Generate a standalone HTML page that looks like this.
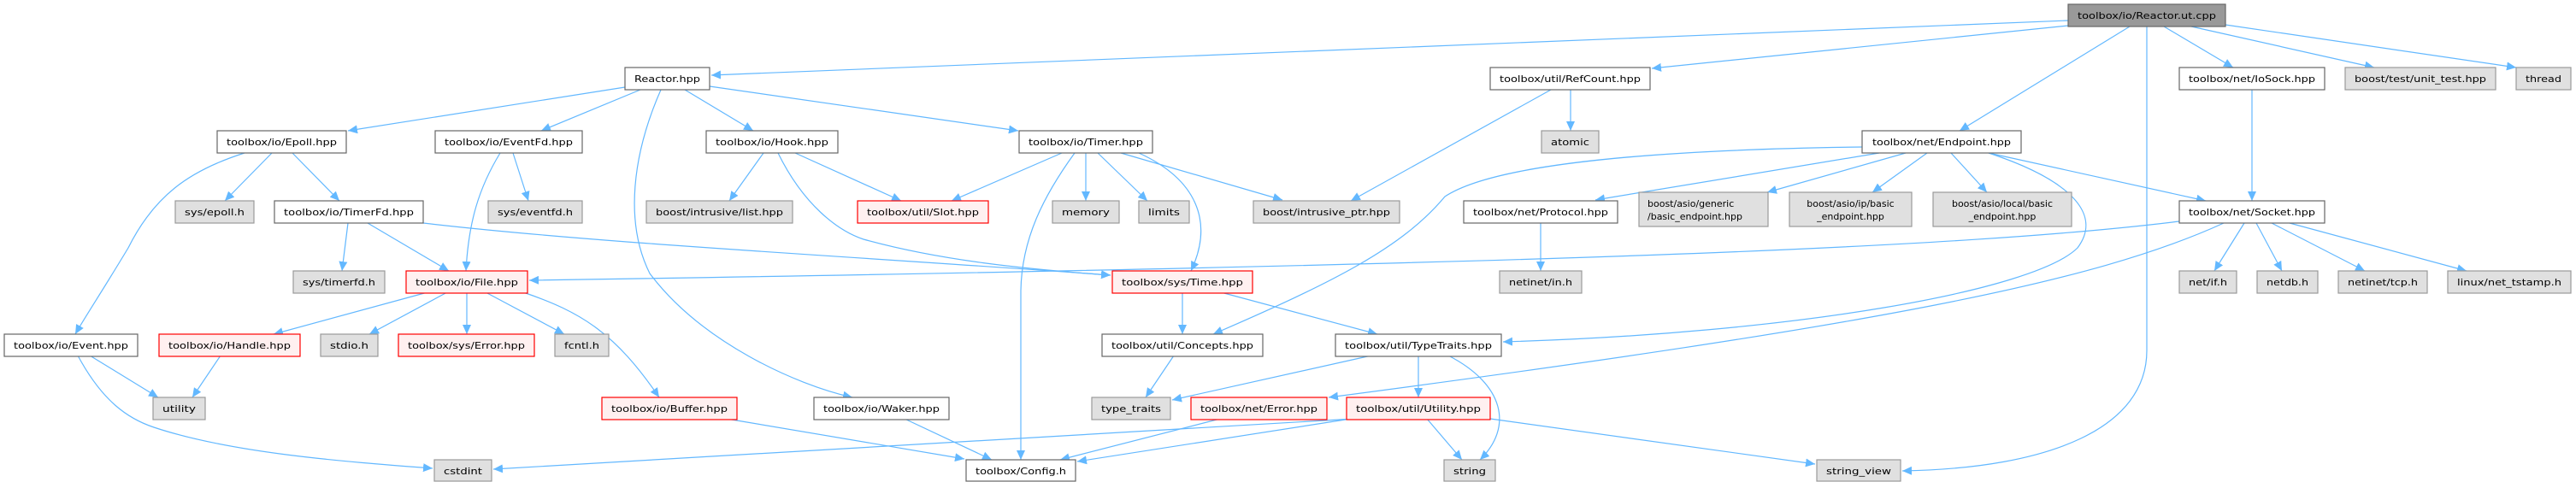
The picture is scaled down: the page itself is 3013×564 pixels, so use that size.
<!DOCTYPE html>
<html><head><meta charset="utf-8"><style>
html,body{margin:0;padding:0;background:#fff;}
svg{display:block;}
text{font-family:"DejaVu Sans","Liberation Sans",sans-serif;font-size:11px;fill:#000;}
.e{fill:none;stroke:#63b8ff;stroke-width:1.2;}
.w{fill:#fff;stroke:#666;stroke-width:1.2;}
.g{fill:#e0e0e0;stroke:#999;stroke-width:1.2;}
.r{fill:#fff0f0;stroke:#ff0000;stroke-width:1.2;}
.d{fill:#999;stroke:#666;stroke-width:1.2;}
</style></head><body>
<svg width="3013" height="564" viewBox="0 0 3013 564" xmlns="http://www.w3.org/2000/svg">
<defs><marker id="a" markerUnits="userSpaceOnUse" markerWidth="12" markerHeight="10" refX="11" refY="5" orient="auto"><path d="M0,0 L11,5 L0,10 z" fill="#63b8ff"/></marker></defs>
<g marker-end="url(#a)">
<path class="e" d="M2419,24 L832,88"/>
<path class="e" d="M2419,30 L1932,80"/>
<path class="e" d="M2491,31 L2292,153"/>
<path class="e" d="M2511,31 L2511,410 C2511,500 2400,548 2225,551"/>
<path class="e" d="M2531,31 L2612,79"/>
<path class="e" d="M2563,31 L2777,79"/>
<path class="e" d="M2603,29 L2943,79"/>
<path class="e" d="M2634,105 L2634,235"/>
<path class="e" d="M731,102 L407,153"/>
<path class="e" d="M749,105 L633,153"/>
<path class="e" d="M801,105 L881,153"/>
<path class="e" d="M830,101 L1191,153"/>
<path class="e" d="M773,105 C740,180 730,260 760,320 C820,400 930,450 997,465"/>
<path class="e" d="M318,179 L263,235"/>
<path class="e" d="M342,179 L397,235"/>
<path class="e" d="M286,179 C220,200 180,230 150,290 C120,340 100,370 88,391"/>
<path class="e" d="M585,179 C560,220 548,260 545,317"/>
<path class="e" d="M600,179 L618,235"/>
<path class="e" d="M407,261 L400,317"/>
<path class="e" d="M430,261 L525,317"/>
<path class="e" d="M495,261 C700,285 1000,300 1299,322"/>
<path class="e" d="M500,342 L320,391"/>
<path class="e" d="M523,342 L432,391"/>
<path class="e" d="M546,342 L546,391"/>
<path class="e" d="M568,342 L660,391"/>
<path class="e" d="M612,342 C680,365 720,390 771,465"/>
<path class="e" d="M105,416 L185,465"/>
<path class="e" d="M91,416 C120,470 150,490 180,500 C270,530 400,540 506,548"/>
<path class="e" d="M258,416 L225,465"/>
<path class="e" d="M893,179 L853,235"/>
<path class="e" d="M930,179 L1054,235"/>
<path class="e" d="M910,179 C940,240 980,270 1010,280 C1100,305 1200,315 1299,322"/>
<path class="e" d="M1242,179 L1113,235"/>
<path class="e" d="M1270,179 L1270,235"/>
<path class="e" d="M1284,179 L1342,235"/>
<path class="e" d="M1311,179 L1500,234"/>
<path class="e" d="M1257,179 C1220,230 1195,280 1194,340 L1194,538"/>
<path class="e" d="M1332,179 C1400,210 1420,260 1393,317"/>
<path class="e" d="M1383,342 L1383,391"/>
<path class="e" d="M1428,342 L1611,391"/>
<path class="e" d="M1373,416 L1340,465"/>
<path class="e" d="M2178,172 C1950,175 1750,190 1690,230 C1640,290 1560,330 1419,391"/>
<path class="e" d="M2198,179 L1866,234"/>
<path class="e" d="M2229,179 L2067,225"/>
<path class="e" d="M2254,179 L2190,225"/>
<path class="e" d="M2282,179 L2324,225"/>
<path class="e" d="M2326,179 L2580,235"/>
<path class="e" d="M2326,179 C2420,210 2460,250 2430,290 C2380,340 2100,390 1758,400"/>
<path class="e" d="M2549,259 C2300,290 1800,310 619,328"/>
<path class="e" d="M2601,261 C2450,330 2200,380 1554,465"/>
<path class="e" d="M2625,261 L2590,317"/>
<path class="e" d="M2639,261 L2669,317"/>
<path class="e" d="M2657,261 L2766,317"/>
<path class="e" d="M2678,261 L2885,317"/>
<path class="e" d="M1837,105 L1837,153"/>
<path class="e" d="M1814,105 L1580,235"/>
<path class="e" d="M1802,261 L1802,317"/>
<path class="e" d="M1604,416 L1371,468"/>
<path class="e" d="M1659,416 L1659,465"/>
<path class="e" d="M1694,416 C1760,450 1770,500 1731,538"/>
<path class="e" d="M1669,490 L1710,538"/>
<path class="e" d="M1743,490 L2123,543"/>
<path class="e" d="M1584,490 L577,549"/>
<path class="e" d="M1580,490 L1260,540"/>
<path class="e" d="M1427,490 L1240,538"/>
<path class="e" d="M850,490 L1128,537"/>
<path class="e" d="M1058,490 L1160,538"/>
</g>
<g>
<rect class="d" x="2419" y="5" width="184" height="26"/><text x="2511" y="22" text-anchor="middle" textLength="162" lengthAdjust="spacingAndGlyphs">toolbox/io/Reactor.ut.cpp</text>
<rect class="w" x="731" y="79" width="99" height="26"/><text x="780.5" y="96" text-anchor="middle" textLength="77" lengthAdjust="spacingAndGlyphs">Reactor.hpp</text>
<rect class="w" x="1743" y="79" width="187" height="26"/><text x="1836.5" y="96" text-anchor="middle" textLength="165" lengthAdjust="spacingAndGlyphs">toolbox/util/RefCount.hpp</text>
<rect class="w" x="2549" y="79" width="170" height="26"/><text x="2634" y="96" text-anchor="middle" textLength="148" lengthAdjust="spacingAndGlyphs">toolbox/net/IoSock.hpp</text>
<rect class="g" x="2743" y="79" width="176" height="26"/><text x="2831" y="96" text-anchor="middle" textLength="154" lengthAdjust="spacingAndGlyphs">boost/test/unit_test.hpp</text>
<rect class="g" x="2943" y="79" width="64" height="26"/><text x="2975" y="96" text-anchor="middle" textLength="42" lengthAdjust="spacingAndGlyphs">thread</text>
<rect class="w" x="254" y="153" width="151" height="26"/><text x="329.5" y="170" text-anchor="middle" textLength="129" lengthAdjust="spacingAndGlyphs">toolbox/io/Epoll.hpp</text>
<rect class="w" x="509" y="153" width="172" height="26"/><text x="595" y="170" text-anchor="middle" textLength="150" lengthAdjust="spacingAndGlyphs">toolbox/io/EventFd.hpp</text>
<rect class="w" x="826" y="153" width="154" height="26"/><text x="903" y="170" text-anchor="middle" textLength="132" lengthAdjust="spacingAndGlyphs">toolbox/io/Hook.hpp</text>
<rect class="w" x="1192" y="153" width="156" height="26"/><text x="1270" y="170" text-anchor="middle" textLength="134" lengthAdjust="spacingAndGlyphs">toolbox/io/Timer.hpp</text>
<rect class="g" x="1803" y="153" width="67" height="26"/><text x="1836.5" y="170" text-anchor="middle" textLength="45" lengthAdjust="spacingAndGlyphs">atomic</text>
<rect class="w" x="2178" y="153" width="186" height="26"/><text x="2271" y="170" text-anchor="middle" textLength="162" lengthAdjust="spacingAndGlyphs">toolbox/net/Endpoint.hpp</text>
<rect class="g" x="205" y="235" width="92" height="26"/><text x="251" y="252" text-anchor="middle" textLength="70" lengthAdjust="spacingAndGlyphs">sys/epoll.h</text>
<rect class="w" x="321" y="235" width="174" height="26"/><text x="408" y="252" text-anchor="middle" textLength="152" lengthAdjust="spacingAndGlyphs">toolbox/io/TimerFd.hpp</text>
<rect class="g" x="571" y="235" width="110" height="26"/><text x="626" y="252" text-anchor="middle" textLength="88" lengthAdjust="spacingAndGlyphs">sys/eventfd.h</text>
<rect class="g" x="756" y="235" width="171" height="26"/><text x="841.5" y="252" text-anchor="middle" textLength="149" lengthAdjust="spacingAndGlyphs">boost/intrusive/list.hpp</text>
<rect class="r" x="1003" y="235" width="153" height="26"/><text x="1079.5" y="252" text-anchor="middle" textLength="131" lengthAdjust="spacingAndGlyphs">toolbox/util/Slot.hpp</text>
<rect class="g" x="1231" y="235" width="78" height="26"/><text x="1270" y="252" text-anchor="middle" textLength="56" lengthAdjust="spacingAndGlyphs">memory</text>
<rect class="g" x="1332" y="235" width="59" height="26"/><text x="1361.5" y="252" text-anchor="middle" textLength="37" lengthAdjust="spacingAndGlyphs">limits</text>
<rect class="g" x="1466" y="235" width="171" height="26"/><text x="1551.5" y="252" text-anchor="middle" textLength="149" lengthAdjust="spacingAndGlyphs">boost/intrusive_ptr.hpp</text>
<rect class="w" x="1712" y="235" width="180" height="26"/><text x="1802" y="252" text-anchor="middle" textLength="158" lengthAdjust="spacingAndGlyphs">toolbox/net/Protocol.hpp</text>
<rect class="g" x="1917" y="225" width="151" height="40"/><text x="1927" y="242">boost/asio/generic</text><text x="1927" y="257">/basic_endpoint.hpp</text>
<rect class="g" x="2093" y="225" width="143" height="40"/><text x="2164.5" y="242" text-anchor="middle">boost/asio/ip/basic</text><text x="2164.5" y="257" text-anchor="middle">_endpoint.hpp</text>
<rect class="g" x="2261" y="225" width="162" height="40"/><text x="2342" y="242" text-anchor="middle">boost/asio/local/basic</text><text x="2342" y="257" text-anchor="middle">_endpoint.hpp</text>
<rect class="w" x="2549" y="235" width="170" height="26"/><text x="2634" y="252" text-anchor="middle" textLength="148" lengthAdjust="spacingAndGlyphs">toolbox/net/Socket.hpp</text>
<rect class="g" x="343" y="317" width="107" height="26"/><text x="396.5" y="334" text-anchor="middle" textLength="85" lengthAdjust="spacingAndGlyphs">sys/timerfd.h</text>
<rect class="r" x="475" y="317" width="142" height="26"/><text x="546" y="334" text-anchor="middle" textLength="120" lengthAdjust="spacingAndGlyphs">toolbox/io/File.hpp</text>
<rect class="r" x="1301" y="317" width="164" height="26"/><text x="1383" y="334" text-anchor="middle" textLength="142" lengthAdjust="spacingAndGlyphs">toolbox/sys/Time.hpp</text>
<rect class="g" x="1754" y="317" width="96" height="26"/><text x="1802" y="334" text-anchor="middle" textLength="74" lengthAdjust="spacingAndGlyphs">netinet/in.h</text>
<rect class="g" x="2549" y="317" width="67" height="26"/><text x="2582.5" y="334" text-anchor="middle" textLength="45" lengthAdjust="spacingAndGlyphs">net/if.h</text>
<rect class="g" x="2640" y="317" width="71" height="26"/><text x="2675.5" y="334" text-anchor="middle" textLength="49" lengthAdjust="spacingAndGlyphs">netdb.h</text>
<rect class="g" x="2735" y="317" width="104" height="26"/><text x="2787" y="334" text-anchor="middle" textLength="82" lengthAdjust="spacingAndGlyphs">netinet/tcp.h</text>
<rect class="g" x="2863" y="317" width="144" height="26"/><text x="2935" y="334" text-anchor="middle" textLength="122" lengthAdjust="spacingAndGlyphs">linux/net_tstamp.h</text>
<rect class="w" x="5" y="391" width="156" height="26"/><text x="83" y="408" text-anchor="middle" textLength="134" lengthAdjust="spacingAndGlyphs">toolbox/io/Event.hpp</text>
<rect class="r" x="186" y="391" width="165" height="26"/><text x="268.5" y="408" text-anchor="middle" textLength="143" lengthAdjust="spacingAndGlyphs">toolbox/io/Handle.hpp</text>
<rect class="g" x="375" y="391" width="67" height="26"/><text x="408.5" y="408" text-anchor="middle" textLength="45" lengthAdjust="spacingAndGlyphs">stdio.h</text>
<rect class="r" x="466" y="391" width="159" height="26"/><text x="545.5" y="408" text-anchor="middle" textLength="137" lengthAdjust="spacingAndGlyphs">toolbox/sys/Error.hpp</text>
<rect class="g" x="649" y="391" width="63" height="26"/><text x="680.5" y="408" text-anchor="middle" textLength="41" lengthAdjust="spacingAndGlyphs">fcntl.h</text>
<rect class="w" x="1289" y="391" width="188" height="26"/><text x="1383" y="408" text-anchor="middle" textLength="166" lengthAdjust="spacingAndGlyphs">toolbox/util/Concepts.hpp</text>
<rect class="w" x="1562" y="391" width="194" height="26"/><text x="1659" y="408" text-anchor="middle" textLength="172" lengthAdjust="spacingAndGlyphs">toolbox/util/TypeTraits.hpp</text>
<rect class="g" x="179" y="465" width="61" height="26"/><text x="209.5" y="482" text-anchor="middle" textLength="39" lengthAdjust="spacingAndGlyphs">utility</text>
<rect class="r" x="704" y="465" width="158" height="26"/><text x="783" y="482" text-anchor="middle" textLength="136" lengthAdjust="spacingAndGlyphs">toolbox/io/Buffer.hpp</text>
<rect class="w" x="952" y="465" width="158" height="26"/><text x="1031" y="482" text-anchor="middle" textLength="136" lengthAdjust="spacingAndGlyphs">toolbox/io/Waker.hpp</text>
<rect class="g" x="1277" y="465" width="92" height="26"/><text x="1323" y="482" text-anchor="middle" textLength="70" lengthAdjust="spacingAndGlyphs">type_traits</text>
<rect class="r" x="1393" y="465" width="159" height="26"/><text x="1472.5" y="482" text-anchor="middle" textLength="137" lengthAdjust="spacingAndGlyphs">toolbox/net/Error.hpp</text>
<rect class="r" x="1575" y="465" width="168" height="26"/><text x="1659" y="482" text-anchor="middle" textLength="146" lengthAdjust="spacingAndGlyphs">toolbox/util/Utility.hpp</text>
<rect class="g" x="508" y="538" width="67" height="25"/><text x="541.5" y="555" text-anchor="middle" textLength="45" lengthAdjust="spacingAndGlyphs">cstdint</text>
<rect class="w" x="1130" y="538" width="128" height="25"/><text x="1194" y="555" text-anchor="middle" textLength="106" lengthAdjust="spacingAndGlyphs">toolbox/Config.h</text>
<rect class="g" x="1689" y="538" width="60" height="25"/><text x="1719" y="555" text-anchor="middle" textLength="38" lengthAdjust="spacingAndGlyphs">string</text>
<rect class="g" x="2125" y="538" width="98" height="25"/><text x="2174" y="555" text-anchor="middle" textLength="76" lengthAdjust="spacingAndGlyphs">string_view</text>
</g>
</svg>
</body></html>
